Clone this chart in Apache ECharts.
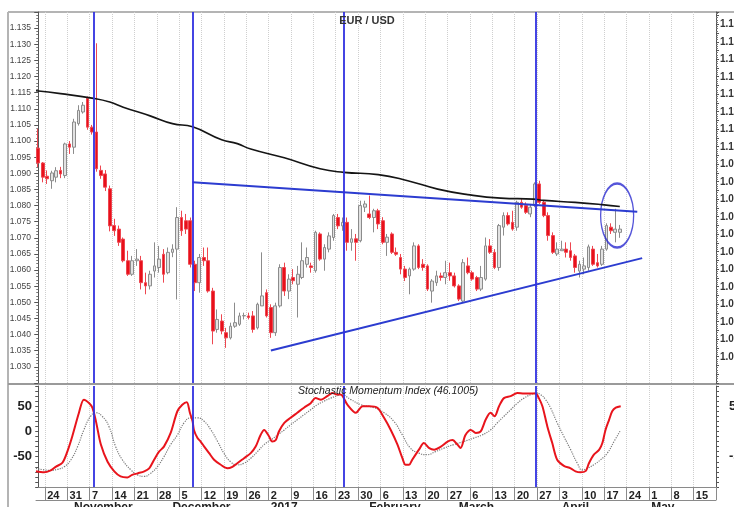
<!DOCTYPE html>
<html><head><meta charset="utf-8">
<script src="https://cdn.jsdelivr.net/npm/echarts/dist/echarts.min.js"></script>
<style>html,body{margin:0;padding:0;background:#fff}#c{width:734px;height:507px}</style>
</head><body><div id="c"></div>
<script>
// ---- data ----
const startDate = '2016-10-20', endDate = '2017-05-19';   // trading-day calendar of the x axis
const monthLabels = ['2017','February','March','April','May','June','July','August','September','October','November','December'];
const opens  = [1.0978,1.0932,1.0891,1.0877,1.0888,1.0909,1.0893,1.0991,1.0981,1.1054,1.1090,1.1133,1.1043,1.1028,1.0909,1.0898,1.0852,1.0738,1.0727,1.0696,1.0629,1.0587,1.0629,1.0629,1.0561,1.0551,1.0597,1.0608,1.0649,1.0592,1.0655,1.0665,1.0763,1.0753,1.0753,1.0618,1.0561,1.0639,1.0629,1.0535,1.0416,1.0442,1.0406,1.0390,1.0426,1.0432,1.0458,1.0458,1.0458,1.0421,1.0489,1.0530,1.0484,1.0406,1.0489,1.0608,1.0535,1.0577,1.0556,1.0577,1.0618,1.0613,1.0598,1.0712,1.0634,1.0665,1.0701,1.0763,1.0737,1.0748,1.0686,1.0697,1.0691,1.0795,1.0774,1.0763,1.0784,1.0753,1.0686,1.0712,1.0655,1.0639,1.0603,1.0582,1.0603,1.0675,1.0618,1.0613,1.0535,1.0561,1.0582,1.0577,1.0592,1.0582,1.0551,1.0504,1.0613,1.0592,1.0577,1.0541,1.0572,1.0675,1.0655,1.0608,1.0733,1.0769,1.0748,1.0733,1.0810,1.0800,1.0774,1.0800,1.0867,1.0810,1.0769,1.0707,1.0650,1.0660,1.0665,1.0660,1.0644,1.0597,1.0603,1.0608,1.0665,1.0623,1.0618,1.0665,1.0733,1.0717,1.0717];
const closes = [1.0932,1.0888,1.0883,1.0901,1.0908,1.0898,1.0991,1.0981,1.1059,1.1095,1.1111,1.1043,1.1028,1.0914,1.0893,1.0857,1.0737,1.0722,1.0686,1.0629,1.0587,1.0629,1.0634,1.0561,1.0551,1.0587,1.0613,1.0634,1.0587,1.0655,1.0665,1.0763,1.0722,1.0727,1.0618,1.0561,1.0639,1.0629,1.0535,1.0411,1.0447,1.0411,1.0390,1.0426,1.0437,1.0458,1.0459,1.0453,1.0416,1.0494,1.0520,1.0458,1.0406,1.0489,1.0608,1.0535,1.0572,1.0567,1.0587,1.0629,1.0639,1.0608,1.0717,1.0634,1.0670,1.0706,1.0769,1.0737,1.0748,1.0686,1.0697,1.0686,1.0800,1.0805,1.0763,1.0784,1.0743,1.0686,1.0702,1.0655,1.0649,1.0603,1.0577,1.0603,1.0675,1.0608,1.0608,1.0541,1.0566,1.0582,1.0577,1.0592,1.0582,1.0551,1.0510,1.0623,1.0592,1.0572,1.0541,1.0577,1.0675,1.0655,1.0608,1.0738,1.0769,1.0743,1.0727,1.0810,1.0795,1.0779,1.0795,1.0867,1.0810,1.0769,1.0707,1.0655,1.0665,1.0665,1.0655,1.0639,1.0608,1.0618,1.0613,1.0672,1.0618,1.0613,1.0665,1.0738,1.0722,1.0727,1.0727];
const lows   = [1.0919,1.0872,1.0867,1.0852,1.0872,1.0885,1.0885,1.0960,1.0960,1.1048,1.1085,1.1035,1.1020,1.0905,1.0883,1.0845,1.0720,1.0706,1.0675,1.0624,1.0582,1.0582,1.0613,1.0540,1.0525,1.0540,1.0577,1.0592,1.0561,1.0587,1.0640,1.0509,1.0706,1.0712,1.0608,1.0535,1.0530,1.0613,1.0530,1.0370,1.0406,1.0401,1.0359,1.0385,1.0421,1.0427,1.0447,1.0447,1.0406,1.0416,1.0489,1.0453,1.0390,1.0396,1.0484,1.0520,1.0510,1.0556,1.0453,1.0572,1.0608,1.0592,1.0592,1.0629,1.0598,1.0655,1.0691,1.0727,1.0722,1.0660,1.0660,1.0629,1.0686,1.0780,1.0758,1.0717,1.0727,1.0680,1.0644,1.0650,1.0644,1.0587,1.0566,1.0525,1.0598,1.0603,1.0598,1.0535,1.0499,1.0551,1.0567,1.0556,1.0567,1.0546,1.0504,1.0499,1.0587,1.0567,1.0535,1.0535,1.0567,1.0650,1.0603,1.0598,1.0707,1.0738,1.0722,1.0722,1.0790,1.0774,1.0764,1.0795,1.0805,1.0764,1.0691,1.0650,1.0644,1.0660,1.0639,1.0629,1.0592,1.0577,1.0587,1.0598,1.0613,1.0608,1.0613,1.0660,1.0712,1.0686,1.0700];
const highs  = [1.1038,1.0935,1.0909,1.0908,1.0919,1.0920,1.0995,1.1000,1.1069,1.1111,1.1121,1.1138,1.1050,1.1303,1.0924,1.0910,1.0862,1.0759,1.0738,1.0701,1.0660,1.0644,1.0665,1.0644,1.0592,1.0598,1.0686,1.0675,1.0665,1.0670,1.0680,1.0795,1.0784,1.0774,1.0763,1.0629,1.0650,1.0670,1.0670,1.0545,1.0478,1.0463,1.0421,1.0437,1.0499,1.0468,1.0468,1.0468,1.0473,1.0499,1.0655,1.0540,1.0494,1.0499,1.0618,1.0623,1.0587,1.0603,1.0613,1.0686,1.0670,1.0623,1.0722,1.0717,1.0680,1.0717,1.0774,1.0774,1.0763,1.0763,1.0727,1.0712,1.0815,1.0815,1.0831,1.0790,1.0790,1.0764,1.0712,1.0717,1.0670,1.0650,1.0613,1.0608,1.0686,1.0680,1.0634,1.0618,1.0572,1.0598,1.0592,1.0629,1.0623,1.0592,1.0556,1.0634,1.0639,1.0598,1.0582,1.0613,1.0701,1.0696,1.0665,1.0743,1.0779,1.0779,1.0784,1.0815,1.0820,1.0810,1.0805,1.0872,1.0877,1.0815,1.0779,1.0717,1.0686,1.0691,1.0686,1.0686,1.0650,1.0629,1.0639,1.0679,1.0675,1.0650,1.0675,1.0745,1.0745,1.0790,1.0740];
// moving average (trading-day index, price)
const maPoints = [[-0.5,1.1156],[5,1.1147],[12,1.1133],[16,1.1121],[19,1.1105],[25,1.1078],[30,1.1054],[34.5,1.1044],[41,1.1004],[44.5,1.0992],[47.5,1.0975],[55,1.0948],[63,1.0914],[68.3,1.0903],[76,1.0896],[82.6,1.0877],[89.3,1.0851],[96,1.0834],[103.4,1.0823],[110.7,1.0820],[113,1.0816],[120,1.0810],[126,1.0803],[130,1.0797]];
const upperTrend = [[34.5,1.0872],[133.9,1.0781]];
const lowerTrend = [[52,1.0351],[135,1.0637]];
const highlight  = [[129.4,1.0769]];
const eventMarks = [12.3,34.5,68.3,111.2];
// Stochastic Momentum Index and its signal (trading-day index, value)
const smiPoints = [[-0.5,-79],[1.3,-81],[2.8,-77],[3.9,-70],[5.4,-62],[6.5,-40],[7.6,-10],[9.1,37],[10.2,63],[11.4,56],[12.1,47],[12.9,20],[14.0,-26],[15.5,-60],[17.0,-79],[18.4,-89],[19.9,-91],[21.0,-86],[22.2,-83],[23.7,-79],[24.8,-73],[25.9,-56],[27.0,-40],[28.1,-30],[29.6,-3],[31.1,40],[32.2,53],[33.2,58],[33.9,37],[34.5,20],[34.8,3],[35.6,-13],[36.3,-20],[37.1,-30],[38.2,-43],[39.3,-56],[40.8,-66],[42.3,-73],[43.4,-70],[44.5,-63],[46.0,-53],[47.5,-43],[48.6,-30],[49.7,-7],[50.5,3],[51.6,-10],[52.3,-20],[53.1,-17],[53.8,0],[55.0,17],[56.4,27],[57.9,37],[59.4,47],[60.9,56],[62.0,66],[63.2,63],[64.6,70],[65.8,76],[66.9,73],[67.6,73],[69.1,53],[71.0,37],[72.5,50],[74.0,50],[75.8,47],[77.3,27],[78.8,3],[80.3,-26],[81.4,-53],[82.1,-66],[82.9,-66],[83.6,-56],[85.1,-36],[86.2,-23],[87.4,-33],[88.5,-36],[90.0,-30],[91.5,-20],[92.6,-17],[93.7,-26],[94.4,-33],[95.5,-7],[96.7,3],[97.8,-3],[98.9,0],[100.0,23],[101.1,37],[102.0,30],[103.0,50],[104.1,66],[105.6,70],[107.1,76],[108.6,75],[110.1,75],[111.2,75],[111.9,66],[112.7,50],[113.8,10],[114.9,-23],[116.0,-56],[117.5,-68],[119.0,-73],[120.1,-79],[121.2,-81],[122.4,-78],[123.1,-63],[124.2,-46],[125.4,-36],[126.1,-23],[126.8,3],[127.6,23],[128.3,40],[129.1,47],[130.2,50]];
const signalPoints = [[-0.5,-73],[1.3,-76],[2.8,-77],[4.3,-75],[5.8,-70],[7.3,-56],[8.8,-30],[10.2,3],[11.7,30],[12.9,37],[14.3,30],[15.8,10],[17.3,-30],[18.8,-56],[20.7,-76],[22.2,-86],[23.7,-89],[25.1,-83],[26.6,-70],[28.1,-50],[29.6,-26],[31.1,-7],[32.6,17],[34.1,27],[35.6,27],[37.1,20],[38.6,3],[40.1,-20],[41.5,-43],[43.0,-60],[44.5,-66],[46.0,-63],[47.5,-53],[49.0,-40],[50.5,-26],[52.0,-17],[53.5,-7],[55.0,3],[56.4,13],[57.9,23],[59.4,33],[60.9,43],[62.4,53],[63.9,60],[65.4,66],[66.9,71],[67.6,73],[69.9,63],[72.1,53],[75.1,47],[77.3,37],[79.5,20],[81.4,-7],[83.2,-33],[85.1,-43],[86.9,-46],[88.8,-40],[90.7,-33],[92.9,-26],[95.1,-20],[97.4,-13],[99.2,-7],[101.1,3],[102.6,17],[104.1,30],[105.6,43],[107.1,56],[108.6,66],[110.1,73],[111.2,76],[112.3,73],[113.4,63],[114.5,47],[116.0,17],[117.5,-10],[119.0,-36],[120.5,-63],[121.6,-76],[122.7,-73],[124.2,-66],[125.7,-56],[127.2,-43],[128.7,-20],[130.2,3]];

// ---- build the trading-day calendar ----
function parseD(s){const p=s.split('-').map(Number);return new Date(p[0],p[1]-1,p[2]);}
const days=[];
for(let d=parseD(startDate);d<=parseD(endDate);d.setDate(d.getDate()+1)){
  const w=d.getDay(); if(w===0||w===6) continue;
  days.push(new Date(d.getTime()));
}
const categories=days.map(d=>d.getFullYear()+'-'+String(d.getMonth()+1).padStart(2,'0')+'-'+String(d.getDate()).padStart(2,'0'));
const N=categories.length;
const isMonday=i=>days[i]&&days[i].getDay()===1;
const isMonthStart=i=>i>0&&days[i]&&days[i].getMonth()!==days[i-1].getMonth();
const candleData=opens.map((o,i)=>[o,closes[i],lows[i],highs[i]]);

const F='Liberation Sans, Arial, sans-serif';
const chart=echarts.init(document.getElementById('c'),null,{renderer:'canvas'});
const blueV={symbol:'none',silent:true,label:{show:false},lineStyle:{color:'#3030e0',width:1.8,type:'solid'},data:eventMarks.map(x=>({xAxis:x}))};
chart.setOption({
  animation:false,
  backgroundColor:'#fff',
  title:[
    {text:'EUR / USD',left:'center',top:10,textStyle:{fontFamily:F,fontSize:11,fontWeight:'bold',color:'#333'}},
    {text:'Stochastic Momentum Index (46.1005)',left:293,top:381,textStyle:{fontFamily:F,fontSize:10.5,fontStyle:'italic',fontWeight:'normal',color:'#222'}}
  ],
  graphic:[
    {type:'line',shape:{x1:8,y1:12,x2:734,y2:12},style:{stroke:'#b4b4b4',lineWidth:2},silent:true},
    {type:'line',shape:{x1:8,y1:12,x2:8,y2:507},style:{stroke:'#b4b4b4',lineWidth:2},silent:true},
    {type:'line',shape:{x1:8,y1:384,x2:734,y2:384},style:{stroke:'#9a9a9a',lineWidth:2},silent:true}
  ],
  grid:[
    {left:36,right:18,top:12,bottom:124,containLabel:false,outerBoundsMode:'none'},
    {left:36,right:18,top:386,bottom:20,containLabel:false,outerBoundsMode:'none'}
  ],
  xAxis:[
    {type:'category',gridIndex:0,data:categories,boundaryGap:true,
      axisLine:{show:false,onZero:false},axisTick:{show:false},axisLabel:{show:false},
      splitLine:{show:true,interval:(i)=>isMonday(i),lineStyle:{color:'#cfcfcf',type:'dotted',width:1}}},
    {type:'category',gridIndex:1,data:categories,boundaryGap:true,position:'bottom',
      axisLine:{show:true,onZero:false,lineStyle:{color:'#8a8a8a',width:1}},
      axisTick:{show:true,interval:(i)=>isMonday(i),length:13,lineStyle:{color:'#8a8a8a'}},
      axisLabel:{show:true,interval:(i)=>isMonday(i),formatter:v=>String(parseD(v).getDate()),align:'left',margin:3,
        fontFamily:F,fontSize:11,fontWeight:'bold',color:'#222'},
      splitLine:{show:true,interval:(i)=>isMonday(i),lineStyle:{color:'#cfcfcf',type:'dotted',width:1}}},
    {type:'category',gridIndex:1,data:categories,boundaryGap:true,position:'bottom',offset:13,
      axisLine:{show:true,onZero:false,lineStyle:{color:'#8a8a8a',width:1}},axisTick:{show:false},
      axisLabel:{show:true,interval:(i)=>isMonthStart(i),formatter:v=>monthLabels[parseD(v).getMonth()],align:'left',margin:2,
        fontFamily:F,fontSize:12,fontWeight:'bold',color:'#222'},
      splitLine:{show:false}},
    {type:'value',gridIndex:0,min:-0.5,max:N-0.5,show:false},
    {type:'value',gridIndex:1,min:-0.5,max:N-0.5,show:false}
  ],
  yAxis:[
    {type:'value',gridIndex:0,position:'left',min:1.025,max:1.140,interval:0.005,scale:true,
      axisLine:{show:true,lineStyle:{color:'#555'}},axisTick:{show:true,length:4,lineStyle:{color:'#555'}},
      minorTick:{show:true,splitNumber:5,length:2,lineStyle:{color:'#777'}},
      axisLabel:{margin:5,fontFamily:F,fontSize:8.5,color:'#444',formatter:v=>(v<1.0251||v>1.1399)?'':v.toFixed(3)},
      splitLine:{show:false}},
    {type:'value',gridIndex:0,position:'right',min:1.0325,max:1.1385,interval:0.0025,scale:true,
      axisLine:{show:true,lineStyle:{color:'#555'}},axisTick:{show:true,length:3,lineStyle:{color:'#555'}},
      minorTick:{show:true,splitNumber:4,length:2,lineStyle:{color:'#777'}},
      axisLabel:{margin:4,fontFamily:F,fontSize:10,fontWeight:'bold',color:'#333',
        formatter:v=>{const k=v*200;if(Math.abs(k-Math.round(k))>1e-6)return '';if(v<1.0399||v>1.1351)return '';return v.toFixed(3);}},
      splitLine:{show:false}},
    {type:'value',gridIndex:1,position:'left',min:-110,max:90,interval:10,
      axisLine:{show:true,lineStyle:{color:'#555'}},axisTick:{show:true,length:3,lineStyle:{color:'#555'}},
      axisLabel:{margin:4,fontFamily:F,fontSize:13,fontWeight:'bold',color:'#222',
        formatter:v=>{const r=Math.round(v);return (r===50||r===0||r===-50)?String(r):'';}},
      splitLine:{show:false}},
    {type:'value',gridIndex:1,position:'right',min:-110,max:90,interval:10,
      axisLine:{show:true,lineStyle:{color:'#555'}},axisTick:{show:true,length:3,lineStyle:{color:'#555'}},
      axisLabel:{margin:13,align:'left',fontFamily:F,fontSize:13,fontWeight:'bold',color:'#222',
        formatter:v=>{const r=Math.round(v);return (r===50||r===-50)?String(r):'';}},
      splitLine:{show:false}}
  ],
  series:[
    {name:'EUR/USD',type:'candlestick',xAxisIndex:0,yAxisIndex:0,data:candleData,barWidth:3.2,
      itemStyle:{color:'#e2e2e2',color0:'#e8101a',borderColor:'#8c8c8c',borderColor0:'#ee4650',borderWidth:1}},
    {name:'MA',type:'line',xAxisIndex:3,yAxisIndex:0,data:maPoints,smooth:true,symbol:'none',
      lineStyle:{color:'#151515',width:1.6},markLine:blueV},
    {name:'upper',type:'line',xAxisIndex:3,yAxisIndex:0,data:upperTrend,symbol:'none',lineStyle:{color:'#2c3cd0',width:2}},
    {name:'lower',type:'line',xAxisIndex:3,yAxisIndex:0,data:lowerTrend,symbol:'none',lineStyle:{color:'#2c3cd0',width:2}},
    {name:'ring',type:'scatter',xAxisIndex:3,yAxisIndex:0,data:highlight,symbol:'circle',symbolSize:[33,64],
      itemStyle:{color:'rgba(0,0,0,0)',borderColor:'#2a2ad0',borderWidth:1.8},silent:true},
    {name:'signal',type:'line',xAxisIndex:4,yAxisIndex:2,data:signalPoints,smooth:true,symbol:'none',
      lineStyle:{color:'#7a7a7a',width:1.2,type:'dotted'}},
    {name:'SMI',type:'line',xAxisIndex:4,yAxisIndex:2,data:smiPoints,smooth:0.3,symbol:'none',
      lineStyle:{color:'#e8141c',width:2},markLine:blueV}
  ]
});
</script></body></html>
